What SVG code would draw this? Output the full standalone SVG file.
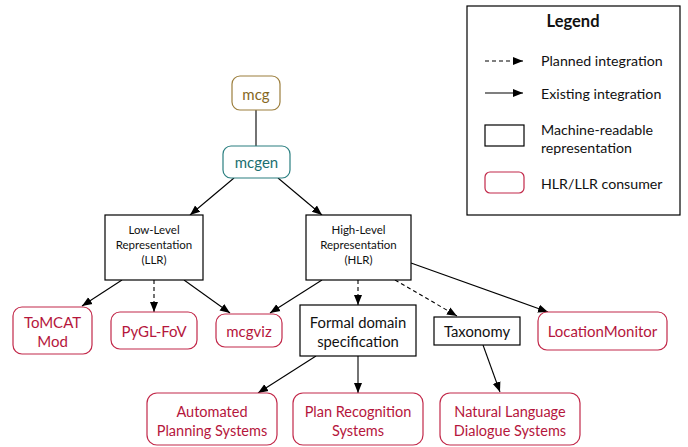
<svg xmlns="http://www.w3.org/2000/svg" width="688" height="447" viewBox="0 0 688 447">
<defs>
<marker id="ah" viewBox="0 0 10 10" refX="10" refY="5" markerWidth="10" markerHeight="10" markerUnits="userSpaceOnUse" orient="auto">
<path d="M0,1 L10,5 L0,9 Z" fill="#000"/>
</marker>
</defs>
<style>
text{font-family:Lato,"Open Sans","DejaVu Sans",sans-serif;text-anchor:middle;dominant-baseline:central}
.mr{fill:#fff;stroke:#000;stroke-width:1.2}
.cons{fill:#fff;stroke:#C2294A;stroke-width:1.2}
.ct{fill:#B5163C;font-size:15px}
.ct2{fill:#B5163C;font-size:14.5px}
.bt{fill:#111;font-size:14.8px}
.c{stroke:#000;stroke-width:1.1;fill:none}
.arr{marker-end:url(#ah)}
.dash{stroke-dasharray:4,3}
.lt{fill:#111;font-size:14.2px;text-anchor:start}
</style>
<rect width="688" height="447" fill="#fff"/>
<g id="connectors">
<line class="c" x1="256" y1="110" x2="256" y2="146"/>
<line class="c arr" x1="234" y1="178" x2="190" y2="215"/>
<line class="c arr" x1="278" y1="178" x2="322" y2="215"/>
<line class="c arr" x1="122" y1="280" x2="82" y2="306"/>
<line class="c arr dash" x1="154" y1="280" x2="154" y2="312"/>
<line class="c arr" x1="184" y1="280" x2="230" y2="313"/>
<line class="c arr" x1="322" y1="280" x2="270" y2="313"/>
<line class="c arr dash" x1="358" y1="280" x2="358" y2="305"/>
<line class="c arr dash" x1="395" y1="280" x2="457" y2="316"/>
<line class="c arr" x1="411" y1="263" x2="548" y2="312"/>
<line class="c arr" x1="316" y1="356" x2="258" y2="393"/>
<line class="c arr" x1="358" y1="356" x2="358" y2="393"/>
<line class="c arr" x1="483" y1="345" x2="500" y2="392"/>
</g>
<g id="mcg">
<rect x="232" y="76" width="48" height="34" rx="8" fill="#fff" stroke="#9C7E3C" stroke-width="1.2"/>
<text x="256" y="94" style="fill:#85671E;font-size:15px">mcg</text>
</g>
<g id="mcgen">
<rect x="223" y="146" width="67" height="32" rx="8" fill="#fff" stroke="#2A7F80" stroke-width="1.2"/>
<text x="256.5" y="162" style="fill:#1B6E70;font-size:15px">mcgen</text>
</g>
<g id="llr">
<rect class="mr" x="105" y="215" width="98" height="65"/>
<text class="bt" x="154" y="229" style="font-size:11.5px">Low-Level</text>
<text class="bt" x="154" y="244" style="font-size:11.5px">Representation</text>
<text class="bt" x="154" y="259" style="font-size:11.5px">(LLR)</text>
</g>
<g id="hlr">
<rect class="mr" x="306" y="215" width="105" height="65"/>
<text class="bt" x="358.5" y="229" style="font-size:11.5px">High-Level</text>
<text class="bt" x="358.5" y="244" style="font-size:11.5px">Representation</text>
<text class="bt" x="358.5" y="259" style="font-size:11.5px">(HLR)</text>
</g>
<g id="tomcat">
<rect class="cons" x="13" y="307" width="79" height="47" rx="9"/>
<text class="ct" x="52.5" y="322">ToMCAT</text>
<text class="ct" x="52.5" y="341">Mod</text>
</g>
<g id="pygl">
<rect class="cons" x="111" y="312" width="86" height="37" rx="9"/>
<text class="ct" x="154" y="331">PyGL-FoV</text>
</g>
<g id="mcgviz">
<rect class="cons" x="216" y="314" width="66" height="33" rx="9"/>
<text class="ct" x="249" y="331">mcgviz</text>
</g>
<g id="formal">
<rect class="mr" x="300" y="305" width="116" height="51"/>
<text class="bt" x="358" y="322">Formal domain</text>
<text class="bt" x="358" y="341">specification</text>
</g>
<g id="taxonomy">
<rect class="mr" x="434" y="317" width="86" height="28"/>
<text class="bt" x="477" y="331">Taxonomy</text>
</g>
<g id="locmon">
<rect class="cons" x="538" y="312" width="129" height="38" rx="9"/>
<text class="ct" x="602.5" y="331">LocationMonitor</text>
</g>
<g id="automated">
<rect class="cons" x="147" y="393" width="130" height="52" rx="10"/>
<text class="ct2" x="212" y="411">Automated</text>
<text class="ct2" x="212" y="430">Planning Systems</text>
</g>
<g id="planrec">
<rect class="cons" x="293" y="393" width="130" height="52" rx="10"/>
<text class="ct2" x="358" y="411">Plan Recognition</text>
<text class="ct2" x="358" y="430">Systems</text>
</g>
<g id="nld">
<rect class="cons" x="440" y="393" width="140" height="52" rx="10"/>
<text class="ct2" x="510" y="411">Natural Language</text>
<text class="ct2" x="510" y="430">Dialogue Systems</text>
</g>
<g id="legend">
<rect x="467" y="6" width="213" height="209" fill="#fff" stroke="#000" stroke-width="1.2"/>
<text x="573" y="21" style="font-weight:bold;font-size:16.5px;fill:#111">Legend</text>
<line class="c arr dash" x1="485" y1="61" x2="523" y2="61"/>
<text class="lt" x="541" y="60">Planned integration</text>
<line class="c arr" x1="485" y1="93" x2="523" y2="93"/>
<text class="lt" x="541" y="93">Existing integration</text>
<rect class="mr" x="485" y="125" width="39" height="21"/>
<text class="lt" x="541" y="129">Machine-readable</text>
<text class="lt" x="541" y="147">representation</text>
<rect class="cons" x="485" y="172" width="39" height="21" rx="5"/>
<text class="lt" x="541" y="183">HLR/LLR consumer</text>
</g>
</svg>
